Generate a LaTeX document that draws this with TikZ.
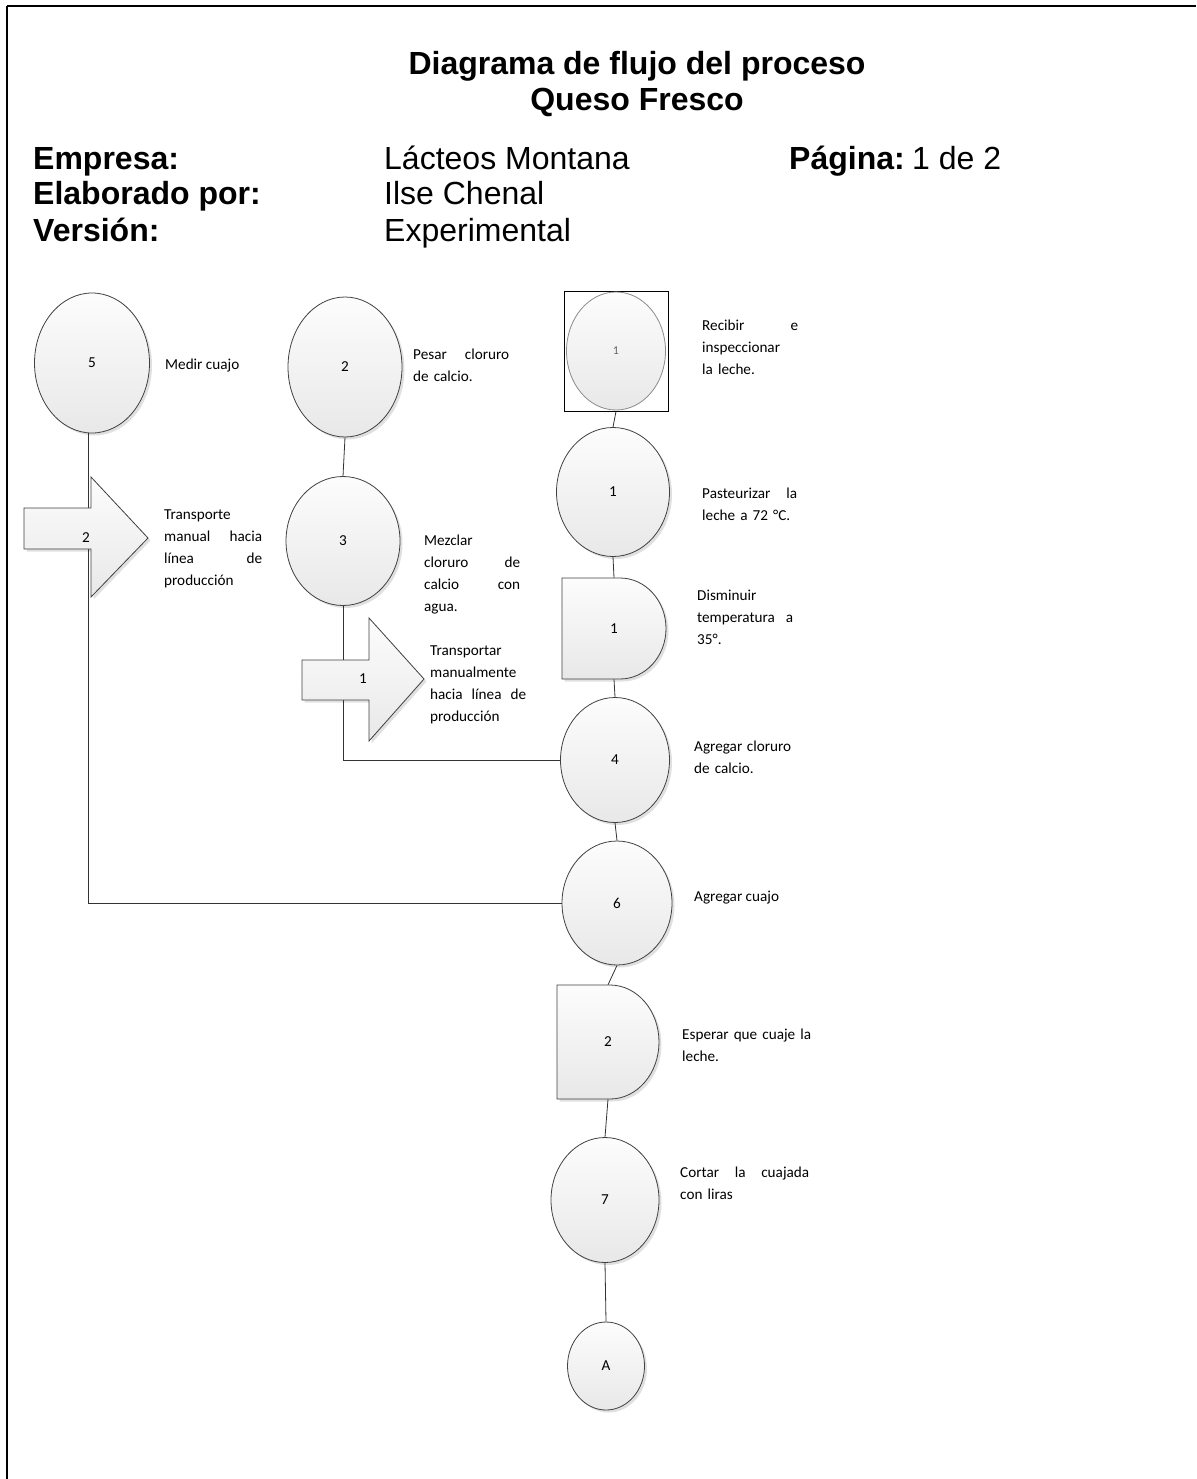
\documentclass[tikz,border=0pt]{standalone}
\usepackage{fontspec}
\setmainfont{Liberation Sans}
\newfontfamily\calibri{Carlito}
\usetikzlibrary{shapes.geometric,shadows,backgrounds}

\begin{document}
\begin{tikzpicture}[x=1pt,y=-1pt,
  shapefill/.style={draw=black!75, line width=0.8pt, top color=black!1, bottom color=black!9,
    drop shadow={shadow xshift=2.5pt, shadow yshift=-2.5pt, opacity=0.12, fill=black}},
  opcircle/.style={shapefill, ellipse, inner sep=0pt, font=\calibri\fontsize{15.2}{18}\selectfont},
  tag/.style={inner sep=0pt, font=\calibri\fontsize{15.2}{18}\selectfont},
  desc/.style={font=\calibri\fontsize{15.2}{22}\selectfont, anchor=base west, inner sep=0pt, align=left},
  link/.style={draw=black!80, line width=0.8pt},
  hdrbold/.style={font=\bfseries\fontsize{32}{38}\selectfont, anchor=base west, inner sep=0pt},
  hdr/.style={font=\fontsize{32}{38}\selectfont, anchor=base west, inner sep=0pt},
]
\useasboundingbox (0,0) rectangle (1196,1479);

% page frame (left and top edges fall on the page)
\coordinate (frameBL) at (7,1479);
\coordinate (frameTL) at (7,6);
\coordinate (frameTR) at (1196,6);
\draw[line width=2pt] (frameBL) -- (frameTL);
\draw[line width=2pt] (frameTL) -- (frameTR);

% title block
\node[font=\bfseries\fontsize{32}{38}\selectfont, anchor=base, inner sep=0pt] (title) at (637,75) {Diagrama de flujo del proceso};
\node[font=\bfseries\fontsize{32}{38}\selectfont, anchor=base, inner sep=0pt] (subtitle) at (637,111) {Queso Fresco};

\node[hdrbold] (hEmp) at (33,170) {Empresa:};
\node[hdr] (vEmp) at (384,170) {Lácteos Montana};
\node[hdrbold] (hPag) at (789,170) {Página:};
\node[hdr] (vPag) at (912,170) {1 de 2};
\node[hdrbold] (hEla) at (33,205) {Elaborado por:};
\node[hdr] (vEla) at (384,205) {Ilse Chenal};
\node[hdrbold] (hVer) at (33,242) {Versión:};
\node[hdr] (vVer) at (384,242) {Experimental};

% left column
\node[opcircle, minimum width=115, minimum height=140] (m5) at (92,363) {5};
\path[shapefill] (24,508) -- (91,508) -- (91,477) -- (148,538) -- (91,597) -- (91,549) -- (24,549) -- cycle;
\node[tag] (t2) at (86,538) {2};

% middle column
\node[opcircle, minimum width=114, minimum height=140] (w2) at (345,367) {2};
\node[opcircle, minimum width=114, minimum height=129] (m3) at (343,541) {3};
\path[shapefill] (302,660) -- (369,660) -- (369,618) -- (424,679) -- (369,741) -- (369,700) -- (302,700) -- cycle;
\node[tag] (t1) at (363,679) {1};

% main column
\node[draw=black, line width=0.8pt, fill=white, minimum width=104, minimum height=120, inner sep=0pt] (box) at (616,351) {};
\node[ellipse, draw=black!45, line width=0.8pt, top color=black!1, bottom color=black!9,
  minimum width=99, minimum height=118, inner sep=0pt,
  font=\calibri\fontsize{12}{14}\selectfont, text=black!60] (r1) at (616,351) {1};
\node[opcircle, minimum width=113, minimum height=129] (p1) at (613,492) {1};
\path[shapefill] (562,578) -- (620,578) arc[start angle=-90, end angle=90, x radius=46, y radius=50.5] -- (562,679) -- cycle;
\node[tag, minimum width=104, minimum height=101] (d1) at (614,628.5) {1};
\node[opcircle, minimum width=109, minimum height=125] (a4) at (615,760) {4};
\node[opcircle, minimum width=110, minimum height=124] (a6) at (617,903) {6};
\path[shapefill] (557,985) -- (610,985) arc[start angle=-90, end angle=90, x radius=49, y radius=57] -- (557,1099) -- cycle;
\node[tag, minimum width=102, minimum height=114] (d2) at (608,1042) {2};
\node[opcircle, minimum width=108, minimum height=125] (c7) at (605,1200) {7};
\node[opcircle, minimum width=77, minimum height=88] (A) at (606,1366) {A};

% connectors
\begin{scope}[on background layer]
  \draw[link] (m5.south) ++(-4,0) |- (a6.west);
  \draw[link] (w2.south) -- (m3.north);
  \draw[link] (m3.south) |- (a4.west);
  \draw[link] (box.south) -- (p1.north);
  \draw[link] (p1.south) -- (d1.north);
  \draw[link] (d1.south) -- (a4.north);
  \draw[link] (a4.south) -- (a6.north);
  \draw[link] (a6.south) -- (d2.north);
  \draw[link] (d2.south) -- (c7.north);
  \draw[link] (c7.south) -- (A.north);
\end{scope}

% step descriptions
\node[desc] (x5) at (165,369) {Medir cuajo};
\node[desc, text width=98] (xt2) at (164,519) {Transporte\\manual\hfill hacia\\línea\hfill de\\producción};
\node[desc, text width=96] (xw2) at (413,359) {Pesar\hfill cloruro\\de calcio.};
\node[desc, text width=96] (xm3) at (424,545) {Mezclar\\cloruro\hfill de\\calcio\hfill con\\agua.};
\node[desc, text width=96] (xt1) at (430,655) {Transportar\\manualmente\\hacia\hfill línea\hfill de\\producción};
\node[desc, text width=96] (xr1) at (702,330) {Recibir\hfill e\\inspeccionar\\la leche.};
\node[desc, text width=95] (xp1) at (702,498) {Pasteurizar\hfill la\\leche a 72 °C.};
\node[desc, text width=96] (xd1) at (697,600) {Disminuir\\temperatura\hfill a\\35°.};
\node[desc, text width=97] (xa4) at (694,751) {Agregar\hfill cloruro\\de calcio.};
\node[desc] (xa6) at (694,901) {Agregar cuajo};
\node[desc, text width=140] (xd2) at (682,1039) {Esperar que cuaje la\\leche.};
\node[desc, text width=129] (xc7) at (680,1177) {Cortar\hfill la\hfill cuajada\\con liras};
\end{tikzpicture}
\end{document}
